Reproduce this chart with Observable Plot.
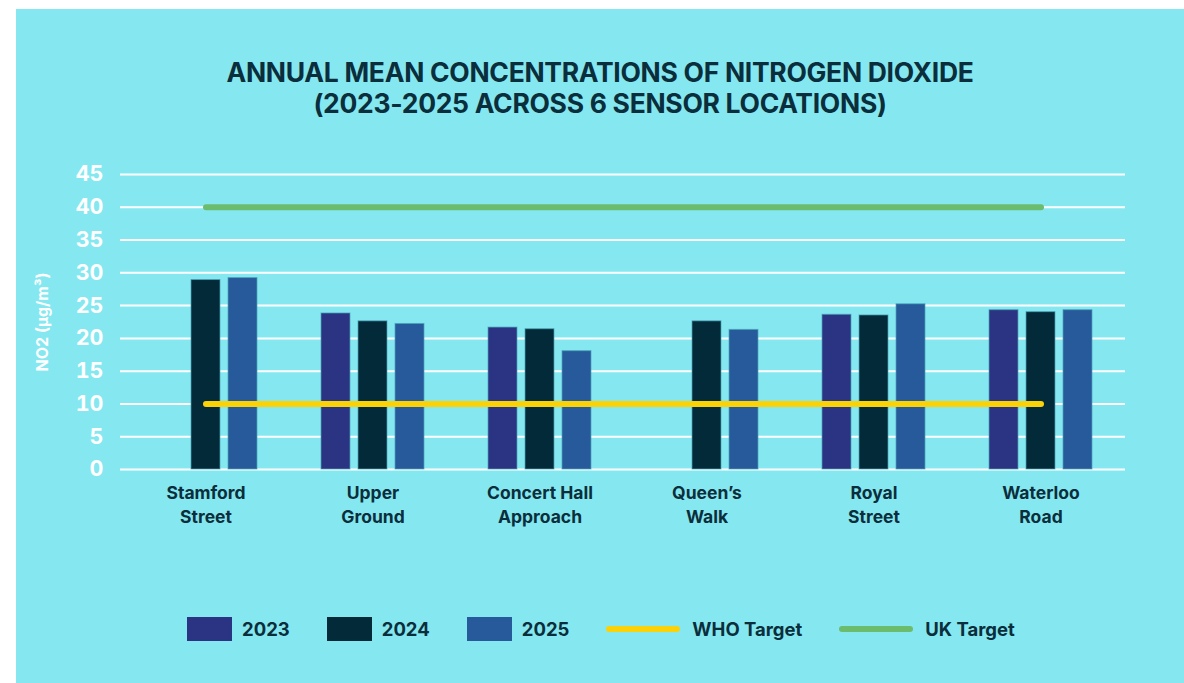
<!DOCTYPE html>
<html>
<head>
<meta charset="utf-8">
<script src="https://cdn.jsdelivr.net/npm/d3@7"></script>
<script src="https://cdn.jsdelivr.net/npm/@observablehq/plot@0.6"></script>
<style>
  html, body { margin: 0; padding: 0; background: #ffffff; width: 1184px; height: 683px; overflow: hidden; font-family: Inter, "Noto Sans", sans-serif; }
  #panel { position: absolute; left: 16px; top: 9px; width: 1168px; height: 674px; background: #85e8f0; }
  #title { position: absolute; left: 16px; top: 57px; width: 1168px; text-align: center; color: #0a2e3b; font-weight: 700; font-size: 26.5px; line-height: 31px; letter-spacing: -0.3px; }
  #chart { position: absolute; left: 0; top: 150px; }
  #legend { position: absolute; left: 187px; top: 617px; display: flex; align-items: center; height: 24px; color: #0a2e3b; font-weight: 700; font-size: 18.5px; }
  .sw { width: 45px; height: 24px; }
  .ln { width: 74px; height: 6px; border-radius: 3px; }
  .lab { margin-left: 10px; margin-right: 37px; }
</style>
</head>
<body>
<div id="panel"></div>
<div id="title">ANNUAL MEAN CONCENTRATIONS OF NITROGEN DIOXIDE<br>(2023-2025 ACROSS 6 SENSOR LOCATIONS)</div>
<div id="chart"></div>
<div id="legend"></div>
<script>
// ---- data ----
const locations = ["Stamford\nStreet", "Upper\nGround", "Concert Hall\nApproach", "Queen’s\nWalk", "Royal\nStreet", "Waterloo\nRoad"];
const years = ["2023", "2024", "2025"];
const values2023 = [null, 23.8, 21.65, null, 23.6, 24.3];
const values2024 = [28.9, 22.6, 21.4, 22.6, 23.5, 24.0];
const values2025 = [29.2, 22.2, 18.05, 21.3, 25.2, 24.3];
const whoTarget = 10;
const ukTarget = 40;
const yTicks = [0, 5, 10, 15, 20, 25, 30, 35, 40, 45];
const yLabel = "NO2 (µg/m³)";
const yearColors = ["#2a3482", "#032a38", "#275a9b"];
const whoColor = "#fbd208";
const ukColor = "#6cbc6e";

const seriesByYear = [values2023, values2024, values2025];
const rows = [];
years.forEach((yr, i) => {
  seriesByYear[i].forEach((v, j) => {
    if (v != null) rows.push({loc: locations[j], year: yr, value: v});
  });
});

const offsets = [-37, 0, 37];
const barMarks = years.map((yr, i) =>
  Plot.barY(rows.filter(d => d.year === yr), {
    x: "loc", y: "value", fill: "year", dx: offsets[i],
    stroke: "#4aa3b8", strokeWidth: 1, strokeOpacity: 0.7
  })
);

const chart = Plot.plot({
  width: 1184,
  height: 389,
  marginLeft: 120,
  marginRight: 59,
  marginTop: 24,
  marginBottom: 70,
  style: { background: "transparent", fontFamily: "Inter, 'Noto Sans', sans-serif", overflow: "visible" },
  x: { domain: locations, paddingInner: 0.8269, paddingOuter: 0.41343, label: null },
  y: { domain: [0, 45], ticks: yTicks, label: null },
  color: { domain: years, range: yearColors },
  marks: [
    Plot.gridY(yTicks, { stroke: "#ffffff", strokeOpacity: 1, strokeWidth: 2 }),
    ...barMarks,
    Plot.lineY(locations, { x: d => d, y: () => whoTarget, stroke: whoColor, strokeWidth: 6, strokeLinecap: "round" }),
    Plot.lineY(locations, { x: d => d, y: () => ukTarget, stroke: ukColor, strokeWidth: 6, strokeLinecap: "round" }),
    Plot.axisY(yTicks, { tickSize: 0, tickPadding: 17, fill: "#ffffff", fontSize: 21.5, fontWeight: 700,
      label: yLabel, labelArrow: "none", labelAnchor: "center", labelOffset: 84 }),
    Plot.axisX({ tickSize: 0, tickPadding: 12, fill: "#0a2e3b", fontSize: 17.5, fontWeight: 700, lineHeight: 1.4, label: null })
  ]
});
document.getElementById("chart").appendChild(chart);

// style the y-axis label
chart.querySelectorAll("text").forEach(t => {
  if (t.textContent.startsWith("NO2")) {
    t.textContent = yLabel;
    t.style.fontSize = "16px";
    t.style.fontWeight = "700";
    t.style.fill = "#ffffff";
    const g = t.parentNode;
    if (g && g.tagName === "g") { g.setAttribute("font-size", "16"); g.setAttribute("font-weight", "700"); }
  }
});

// ---- legend ----
const legend = document.getElementById("legend");
years.forEach((yr, i) => {
  const s = document.createElement("div"); s.className = "sw"; s.style.background = yearColors[i];
  const l = document.createElement("div"); l.className = "lab"; l.textContent = yr;
  legend.append(s, l);
});
[["WHO Target", whoColor], ["UK Target", ukColor]].forEach(([name, c], i) => {
  const s = document.createElement("div"); s.className = "ln"; s.style.background = c;
  const l = document.createElement("div"); l.className = "lab"; l.textContent = name;
  l.style.marginLeft = "12px";
  legend.append(s, l);
});
</script>
</body>
</html>
